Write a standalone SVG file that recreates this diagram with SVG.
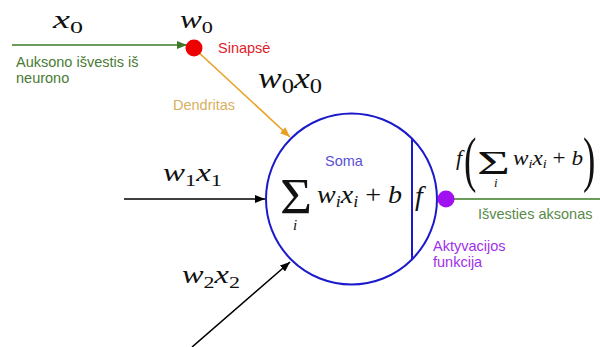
<svg xmlns="http://www.w3.org/2000/svg" width="600" height="347" viewBox="0 0 600 347">
<style>
.m{font-family:"Liberation Serif","Times New Roman",serif;font-style:italic;fill:#111}
.u{font-family:"Liberation Serif","Times New Roman",serif;fill:#111}
.s{font-family:"Liberation Sans",Arial,sans-serif;font-size:14.5px}
</style>
<defs>
<marker id="ag" viewBox="0 0 10 8" refX="10" refY="4" markerWidth="10" markerHeight="8" markerUnits="userSpaceOnUse" orient="auto"><path d="M0,0L10,4L0,8z" fill="#3d7a26"/></marker>
<marker id="ao" viewBox="0 0 10 8" refX="10" refY="4" markerWidth="10" markerHeight="8" markerUnits="userSpaceOnUse" orient="auto"><path d="M0,0L10,4L0,8z" fill="#e8a020"/></marker>
<marker id="ak" viewBox="0 0 10 8" refX="10" refY="4" markerWidth="10" markerHeight="8" markerUnits="userSpaceOnUse" orient="auto"><path d="M0,0L10,4L0,8z" fill="#000"/></marker>
</defs>
<rect width="600" height="347" fill="#fff"/>
<g id="connectors" fill="none" stroke-width="1.6">
<line x1="12" y1="45" x2="187" y2="45" stroke="#3d7a26" marker-end="url(#ag)"/>
<line x1="196" y1="50" x2="290" y2="137" stroke="#e8a020" marker-end="url(#ao)"/>
<line x1="124" y1="199" x2="265" y2="199" stroke="#000" marker-end="url(#ak)"/>
<line x1="192" y1="347" x2="290" y2="262" stroke="#000" marker-end="url(#ak)"/>
<line x1="454" y1="199" x2="600" y2="199" stroke="#3d7a26"/>
</g>
<g id="soma">
<circle cx="351.5" cy="199" r="85.5" fill="none" stroke="#1a1acc" stroke-width="2"/>
<line x1="412" y1="139" x2="412" y2="259" stroke="#1a1acc" stroke-width="2"/>
<text x="325" y="166" class="s" fill="#5a4fd8">Soma</text>
<text x="280" y="213" class="u" font-size="50" textLength="32" lengthAdjust="spacingAndGlyphs">Σ</text>
<text x="293" y="230" class="m" font-size="15">i</text>
<text x="317" y="203" class="m" font-size="25" textLength="85" lengthAdjust="spacingAndGlyphs">w<tspan font-size="16" dy="4">i</tspan><tspan dy="-4">x</tspan><tspan font-size="16" dy="4">i</tspan><tspan dy="-4" font-style="normal"> + </tspan>b</text>
<text x="415" y="205" class="m" font-size="28">f</text>
</g>
<g id="synapse">
<circle cx="194" cy="48" r="8.5" fill="#ee0000"/>
<text x="218" y="53" class="s" fill="#e0202a">Sinapsė</text>
</g>
<g id="axon-output">
<circle cx="446" cy="199" r="8.5" fill="#a010f0"/>
<text x="478" y="219" class="s" fill="#5a8a48">Išvesties aksonas</text>
<text x="433" y="251" class="s" fill="#a030e8">Aktyvacijos</text>
<text x="433" y="267" class="s" fill="#a030e8">funkcija</text>
</g>
<g id="labels">
<text x="53" y="28" class="m" font-size="25" textLength="30" lengthAdjust="spacingAndGlyphs">x<tspan font-size="17" dy="5" font-style="normal">0</tspan></text>
<text x="180" y="28" class="m" font-size="25" textLength="33" lengthAdjust="spacingAndGlyphs">w<tspan font-size="17" dy="5" font-style="normal">0</tspan></text>
<text x="16" y="67" class="s" fill="#4a7a34">Auksono išvestis iš</text>
<text x="16" y="83" class="s" fill="#4a7a34">neurono</text>
<text x="258" y="88" class="m" font-size="29" textLength="64" lengthAdjust="spacingAndGlyphs">w<tspan font-size="20" dy="5" font-style="normal">0</tspan><tspan dy="-5">x</tspan><tspan font-size="20" dy="5" font-style="normal">0</tspan></text>
<text x="173" y="110" class="s" fill="#d8b060">Dendritas</text>
<text x="163" y="181" class="m" font-size="25" textLength="59" lengthAdjust="spacingAndGlyphs">w<tspan font-size="17" dy="5" font-style="normal">1</tspan><tspan dy="-5">x</tspan><tspan font-size="17" dy="5" font-style="normal">1</tspan></text>
<text x="182" y="283" class="m" font-size="25" textLength="58" lengthAdjust="spacingAndGlyphs">w<tspan font-size="17" dy="5" font-style="normal">2</tspan><tspan dy="-5">x</tspan><tspan font-size="17" dy="5" font-style="normal">2</tspan></text>
</g>
<g id="output-formula">
<text x="456" y="165" class="m" font-size="22">f</text>
<text x="464" y="180" class="u" font-size="62" transform="translate(464 0) scale(0.6 1) translate(-464 0)">(</text>
<text x="477" y="174" class="u" font-size="34" textLength="33" lengthAdjust="spacingAndGlyphs">Σ</text>
<text x="494" y="187" class="m" font-size="13">i</text>
<text x="513" y="165" class="m" font-size="21" textLength="70" lengthAdjust="spacingAndGlyphs">w<tspan font-size="13" dy="3">i</tspan><tspan dy="-3">x</tspan><tspan font-size="13" dy="3">i</tspan><tspan dy="-3" font-style="normal"> + </tspan>b</text>
<text x="583" y="180" class="u" font-size="62" transform="translate(583 0) scale(0.6 1) translate(-583 0)">)</text>
</g>
</svg>
